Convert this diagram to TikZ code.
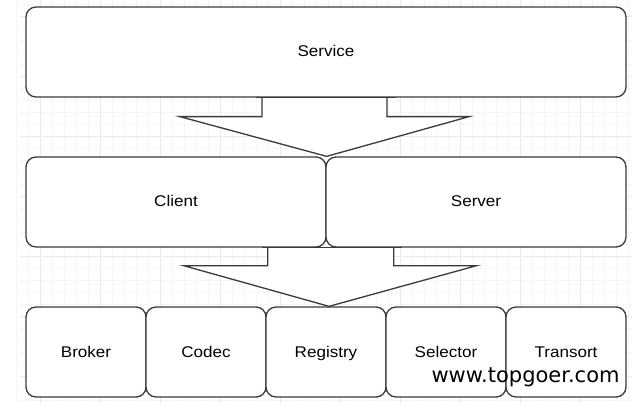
\documentclass[tikz,border=0pt]{standalone}
\usepackage{fontspec}
\usepackage{tikz}
\usetikzlibrary{calc}
\newfontfamily\labelfont[FakeStretch=1.1]{Liberation Sans}
\newfontfamily\markfont{DejaVu Sans}
\definecolor{linegray}{HTML}{3A3A3A}
\definecolor{gridminor}{HTML}{F6F6F6}
\definecolor{gridmajor}{HTML}{EAEAEA}

\begin{document}
\begin{tikzpicture}[x=1pt,y=-1pt,
  box/.style={draw=linegray, line width=1.3pt, fill=white, rounded corners=10pt,
    inner sep=0pt, text height=11pt, text depth=1pt,
    font={\labelfont\fontsize{15.5pt}{18pt}\selectfont}},
  blockarrow/.style={draw=linegray, line width=1.3pt, fill=white, line join=miter}]
\useasboundingbox (0,0) rectangle (644,403);
% background grid
\foreach \x in {16,28,...,628} \draw [gridminor] (\x,0) -- (\x,403);
\foreach \y in {4,16,...,400} \draw [gridminor] (20,\y) -- (632,\y);
\foreach \x in {40,100,...,580} \draw [gridmajor] (\x,0) -- (\x,403);
\foreach \y in {16,76,...,376} \draw [gridmajor] (20,\y) -- (632,\y);
% layers
\node [box, minimum width=600pt, minimum height=90pt] (service) at (326,52) {Service};
\node [box, minimum width=300pt, minimum height=90pt] (client) at (176,202) {Client};
\node [box, minimum width=300pt, minimum height=90pt] (server) at (476,202) {Server};
\foreach \name/\txt [count=\i] in {broker/Broker,codec/Codec,registry/Registry,selector/Selector,transort/Transort}
  \node [box, minimum width=120pt, minimum height=90pt] (\name) at ({120*\i-34},352) {\txt};
% block arrows
\filldraw [blockarrow] ($(service.south)+(-64,0)$) -- ++(0,19) -- ++(-82,0)
  -- (client.north east) -- ($(service.south)+(143,19)$) -- ++(-82,0) -- ++(0,-19);
\filldraw [blockarrow] ($(client.south east)+(-59,0)$) -- ++(0,18) -- ++(-84,0)
  -- ($(registry.north)+(3,0)$) -- ($(client.south east)+(150,18)$) -- ++(-83,0) -- ++(0,-18);
% redraw edges over the arrow joints
\draw [linegray, line width=1.3pt] ($(service.south)+(-70,0)$) -- ($(service.south)+(70,0)$);
\draw [linegray, line width=1.3pt] ($(client.south east)+(-65,0)$) -- ($(client.south east)+(75,0)$);
\node [anchor=base west, font={\markfont\fontsize{21pt}{24pt}\selectfont}] (mark) at (428,382) {www.topgoer.com};
\end{tikzpicture}
\end{document}
